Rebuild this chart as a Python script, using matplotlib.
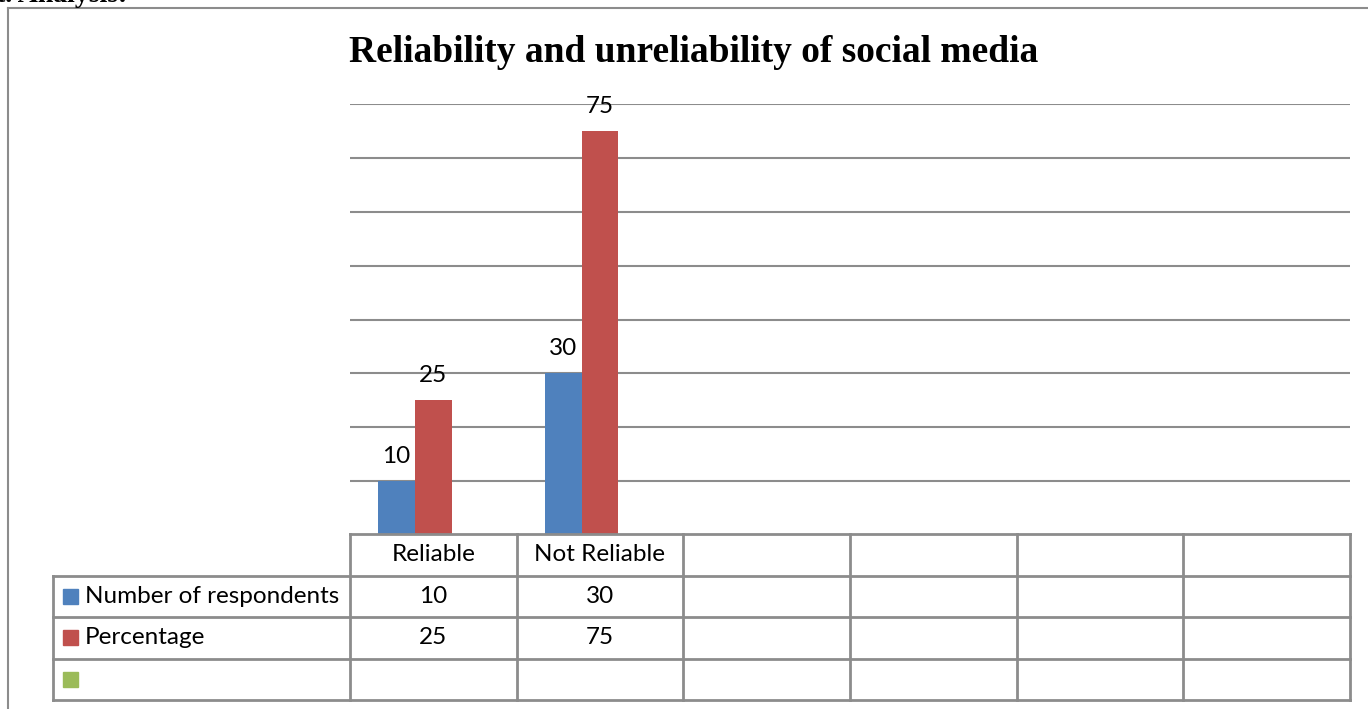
import numpy as np
import matplotlib
matplotlib.use("Agg")
import matplotlib.pyplot as plt
from matplotlib.patches import Rectangle

categories = ["Reliable", "Not Reliable", "", "", "", ""]
respondents = [10, 30]
percentage = [25, 75]
series_names = ["Number of respondents", "Percentage", ""]
colors = ["#4F81BD", "#C0504D", "#9BBB59"]
grid_col = "#8C8C8C"

W, H = 1368, 709
fig = plt.figure(figsize=(W / 100, H / 100), dpi=100)

def fx(px):
    return px / W

def fy(py):
    return 1 - py / H

# outer border of the chart object (only top and left show)
fig.add_artist(plt.Line2D([fx(8), 1.0], [fy(8), fy(8)], color=grid_col, lw=1.5))
fig.add_artist(plt.Line2D([fx(8), fx(8)], [fy(8), 0.0], color=grid_col, lw=1.5))
fig.text(fx(-4), fy(-5), "t. Analysis:", fontsize=20, fontweight="bold", family="Liberation Serif",
         va="center", ha="left")

ax = fig.add_axes([fx(350), fy(535), fx(1350 - 350), fy(104) - fy(535)])
ncat = len(categories)
x = np.arange(ncat)
bw = 37 / 166.67
ax.bar(x[:2] - bw, respondents, bw, color=colors[0], zorder=3)
ax.bar(x[:2], percentage, bw, color=colors[1], zorder=3)
for xi, v in zip(x[:2] - bw, respondents):
    ax.text(xi, v + 2.6, str(v), ha="center", va="bottom", fontsize=17.5, family="Lato")
for xi, v in zip(x[:2], percentage):
    ax.text(xi, v + 2.6, str(v), ha="center", va="bottom", fontsize=17.5, family="Lato")
ax.set_xlim(-0.5, ncat - 0.5)
ax.set_ylim(0, 80)
ax.set_yticks(np.arange(10, 81, 10))
ax.yaxis.grid(True, color=grid_col, lw=1.5, zorder=0)
ax.set_xticks([])
ax.tick_params(left=False, labelleft=False)
for s in ax.spines.values():
    s.set_visible(False)

fig.text(fx(694), fy(53), "Reliability and unreliability of social media", ha="center", va="center",
         fontsize=27, fontweight="bold", family="Liberation Serif")

# data table
left_w = 297 / 166.67
tab = fig.add_axes([fx(53), fy(700), fx(1350 - 53), fy(534) - fy(700)])
tab.set_xlim(-0.5 - left_w, ncat - 0.5)
tab.set_ylim(4, 0)
tab.axis("off")
lk = dict(color=grid_col, lw=2, clip_on=False)
tab.plot([-0.5, ncat - 0.5], [0, 0], **lk)
for r in range(1, 5):
    tab.plot([-0.5 - left_w, ncat - 0.5], [r, r], **lk)
for c in range(ncat + 1):
    tab.plot([c - 0.5, c - 0.5], [0, 4], **lk)
tab.plot([-0.5 - left_w, -0.5 - left_w], [1, 4], **lk)

tf = dict(fontsize=17.5, family="Lato", va="center", ha="center")
for c, name in enumerate(categories):
    tab.text(c, 0.5, name, **tf)
rows = [respondents, percentage, []]
sq = 15 / 166.67
for r, (name, vals) in enumerate(zip(series_names, rows)):
    yc = r + 1.5
    x0 = -0.5 - left_w + 10 / 166.67
    tab.add_patch(Rectangle((x0, yc - 0.18), sq, 0.36, color=colors[r], clip_on=False))
    tab.text(x0 + sq + 7 / 166.67, yc, name, fontsize=17.5, family="Lato", va="center", ha="left")
    for c, v in enumerate(vals):
        tab.text(c, yc, str(v), **tf)

fig.savefig("out.png", dpi=100)
